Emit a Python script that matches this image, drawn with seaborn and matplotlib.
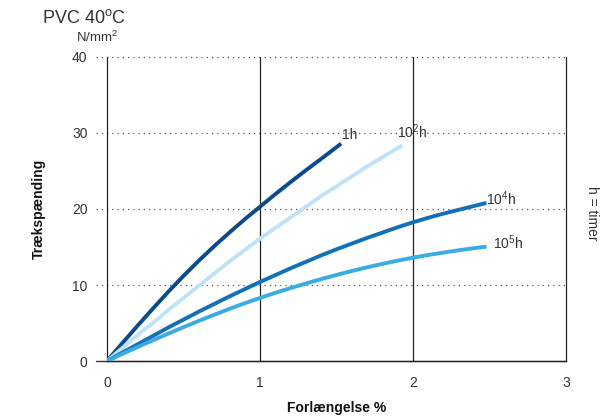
import matplotlib
matplotlib.use("Agg")
import matplotlib.pyplot as plt
import seaborn as sns
import pandas as pd

# Creep curves for PVC at 40 °C: elongation (%) vs. tensile stress (N/mm²)
x_1h = [0, 0.1, 0.2, 0.3, 0.4, 0.5, 0.6, 0.7, 0.8, 0.9, 1.0, 1.1, 1.2, 1.3, 1.4, 1.53]
y_1h = [0, 2.35, 4.65, 6.9, 9.1, 11.2, 13.2, 15.1, 16.9, 18.65, 20.3, 21.95, 23.55,
        25.1, 26.6, 28.6]

x_1e2h = [0, 0.1, 0.2, 0.3, 0.4, 0.5, 0.6, 0.7, 0.8, 0.9, 1.0, 1.1, 1.2, 1.3, 1.4,
          1.5, 1.6, 1.7, 1.8, 1.93]
y_1e2h = [0, 1.7, 3.4, 5.0, 6.7, 8.3, 9.9, 11.5, 13.1, 14.6, 16.1, 17.5, 18.9, 20.3,
          21.7, 23.0, 24.3, 25.6, 26.8, 28.4]

x_1e4h = [0, 0.1, 0.2, 0.3, 0.4, 0.5, 0.6, 0.7, 0.8, 0.9, 1.0, 1.1, 1.2, 1.3, 1.4,
          1.5, 1.6, 1.7, 1.8, 1.9, 2.0, 2.1, 2.2, 2.3, 2.4, 2.48]
y_1e4h = [0, 1.1, 2.2, 3.3, 4.4, 5.45, 6.5, 7.5, 8.5, 9.45, 10.4, 11.3, 12.2, 13.05,
          13.9, 14.7, 15.45, 16.2, 16.9, 17.6, 18.25, 18.85, 19.4, 19.9, 20.4, 20.8]

x_1e5h = [0, 0.1, 0.2, 0.3, 0.4, 0.5, 0.6, 0.7, 0.8, 0.9, 1.0, 1.1, 1.2, 1.3, 1.4,
          1.5, 1.6, 1.7, 1.8, 1.9, 2.0, 2.1, 2.2, 2.3, 2.4, 2.48]
y_1e5h = [0, 0.93, 1.84, 2.73, 3.6, 4.45, 5.28, 6.08, 6.86, 7.6, 8.3, 8.97, 9.6, 10.2,
          10.78, 11.33, 11.85, 12.33, 12.78, 13.2, 13.6, 13.95, 14.27, 14.57, 14.85, 15.05]

series_names = ["1h", "10²h", "10⁴h", "10⁵h"]
series_labels = [r"1h", r"$\mathregular{10^2}$h", r"$\mathregular{10^4}$h", r"$\mathregular{10^5}$h"]
colors = ["#0b4a8b", "#bee3f8", "#1170b8", "#3aabe3"]
label_offsets = [(1, 6), (-4, 10), (0, 3), (5, 3)]

x_ticks = [0, 1, 2, 3]
y_ticks = [0, 10, 20, 30, 40]

frames = []
for name, xs, ys in zip(series_names,
                        [x_1h, x_1e2h, x_1e4h, x_1e5h],
                        [y_1h, y_1e2h, y_1e4h, y_1e5h]):
    frames.append(pd.DataFrame({"x": xs, "y": ys, "serie": name}))
df = pd.concat(frames, ignore_index=True)

sns.set_style("white")
plt.rcParams["font.family"] = ["Liberation Sans", "DejaVu Sans"]
plt.rcParams["mathtext.fontset"] = "custom"
plt.rcParams["mathtext.rm"] = "Liberation Sans"
text_color = "#333333"

fig = plt.figure(figsize=(6.07, 4.19), dpi=100)
ax = fig.add_axes([0.1763, 0.1384, 0.7562, 0.7256])

sns.lineplot(data=df, x="x", y="y", hue="serie", hue_order=series_names,
             palette=colors, linewidth=2.8, sort=False, estimator=None,
             legend=False, ax=ax, solid_capstyle="butt", solid_joinstyle="round",
             zorder=3)

ax.set_xlim(0, 3)
ax.set_ylim(0, 40)
ax.set_xticks(x_ticks)
ax.set_yticks(y_ticks)
ax.set_xticklabels([str(v) for v in x_ticks], color=text_color, fontsize=10)
ax.set_yticklabels([str(v) for v in y_ticks], color=text_color, fontsize=10)

# dotted horizontal guides, extending slightly left of the axis
for v in y_ticks[1:]:
    ax.plot([-0.07, 3], [v, v], ls=(0, (1, 3.2)), color="#555555", lw=0.9,
            clip_on=False, zorder=1)
ax.plot([-0.07, 3], [0, 0], color="#333333", lw=1.0, clip_on=False, zorder=2)

# solid vertical guides
for v in x_ticks[1:-1]:
    ax.axvline(v, color="#222222", lw=0.9, zorder=1)

ax.spines["top"].set_visible(False)
for side in ["left", "right", "bottom"]:
    ax.spines[side].set_color("#222222")
    ax.spines[side].set_linewidth(0.9)

ax.tick_params(axis="x", direction="out", length=7, width=0.9, color="#222222", pad=4)
ax.tick_params(axis="y", length=0, pad=14)

# end-of-curve labels
ends = [(x_1h[-1], y_1h[-1]), (x_1e2h[-1], y_1e2h[-1]),
        (x_1e4h[-1], y_1e4h[-1]), (x_1e5h[-1], y_1e5h[-1])]
for (ex, ey), lab, off in zip(ends, series_labels, label_offsets):
    ax.annotate(lab, (ex, ey), xytext=off, textcoords="offset points",
                ha="left", va="center", fontsize=10, color=text_color)

ax.set_xlabel("Forlængelse %", fontsize=10, fontweight="bold", color="#111111", labelpad=8)
ax.set_ylabel("Trækspænding", fontsize=10, fontweight="bold", color="#111111", labelpad=19)

fig.text(0.069, 0.945, r"PVC 40$\mathregular{^o}$C", fontsize=13, color=text_color,
         ha="left", va="baseline")
fig.text(0.125, 0.9, r"N/mm$\mathregular{^2}$", fontsize=9.5, color=text_color,
         ha="left", va="baseline")
fig.text(0.975, 0.49, "h = timer", rotation=270, fontsize=10, color=text_color,
         ha="center", va="center")

fig.savefig("out.png", dpi=100)
